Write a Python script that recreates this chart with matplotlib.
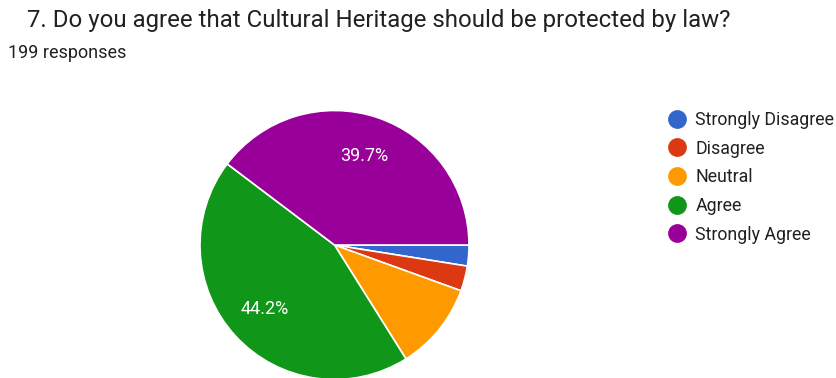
import matplotlib
matplotlib.use("Agg")
import matplotlib.pyplot as plt
from matplotlib.lines import Line2D

plt.rcParams['font.family'] = ['Roboto', 'DejaVu Sans']

categories = ["Strongly Disagree", "Disagree", "Neutral", "Agree", "Strongly Agree"]
counts = [5, 6, 21, 88, 79]
colors = ["#3366cc", "#dc3912", "#ff9900", "#109618", "#990099"]
title = "7. Do you agree that Cultural Heritage should be protected by law?"
subtitle = "199 responses"

W, H = 837, 378
fig = plt.figure(figsize=(W / 100, H / 100), dpi=100)
ax = fig.add_axes([0, 0, 1, 1])

def fmt(p):
    return f"{p:.1f}%" if p >= 20 else ""

wedges, texts, autotexts = ax.pie(
    counts, colors=colors, startangle=0, counterclock=False,
    center=(334.5, H - 245), radius=134.5,
    autopct=fmt, pctdistance=0.70,
    wedgeprops=dict(edgecolor="white", linewidth=1.2),
    textprops=dict(color="white", fontsize=13),
)
ax.set_xlim(0, W)
ax.set_ylim(0, H)
ax.set_aspect("equal")
ax.axis("off")

fig.text(27 / W, 1 - 21 / H, title, fontsize=17.3, color="#202124", va="center", ha="left")
fig.text(8 / W, 1 - 53 / H, subtitle, fontsize=13, color="#202124", va="center", ha="left")

handles = [Line2D([0], [0], marker="o", linestyle="none", markersize=12.5,
                  markerfacecolor=c, markeredgecolor=c) for c in colors]
leg = fig.legend(handles, categories, loc="upper left",
                 bbox_to_anchor=(670 / W, 1 - 111 / H), frameon=False,
                 fontsize=12.8, labelspacing=0.6, handletextpad=0.62,
                 handlelength=0.8, borderaxespad=0, borderpad=0)
for t in leg.get_texts():
    t.set_color("#202124")

fig.savefig("out.png", dpi=100)
